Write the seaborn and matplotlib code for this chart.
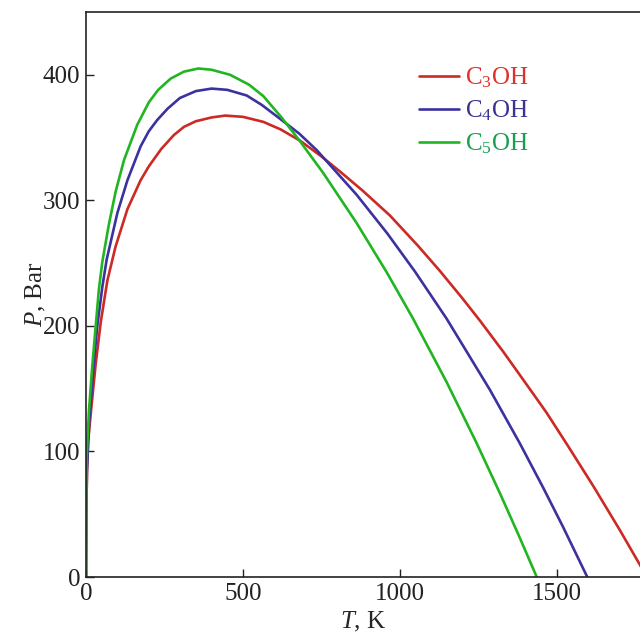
# P(T) curves for C3OH, C4OH, C5OH
import numpy as np
import pandas as pd
import matplotlib
matplotlib.use('Agg')
import matplotlib.pyplot as plt
import seaborn as sns

# values
t_c3 = [0, 1, 3, 6.4, 17, 31, 47, 68, 94, 132, 174, 200, 240, 280, 312, 350, 400, 443, 500, 565, 620, 682,
        750, 809, 880, 968, 1058, 1127, 1200, 1255, 1330, 1414, 1467, 1536, 1616, 1700, 1764, 1787]
p_c3 = [0, 50, 82, 107, 135, 170, 203, 236, 263, 293, 316, 327, 341, 352, 358.5, 363, 366, 367.5, 366.5, 362.5, 356.5, 347.5,
        335, 323, 308, 288, 263.7, 243.9, 221.7, 204.2, 179.2, 149.7, 131, 104.2, 72.5, 37.7, 10, 0]

t_c4 = [0, 1, 3, 10, 23, 36, 52, 66, 100, 132, 174, 200, 227, 260, 299, 350, 400, 450, 512, 560, 618,
        680, 735, 862, 960, 1048, 1149, 1287, 1382, 1456, 1520, 1597]
p_c4 = [0, 50, 85, 123, 165, 200, 231, 253, 290, 316, 343, 355, 364, 373, 381.5, 387, 389, 388, 383.5, 376, 365,
        353, 340, 304.5, 273.6, 243.3, 205.7, 149, 106.5, 71.4, 39.8, 0]

t_c5 = [0, 1, 2, 9.6, 20, 31, 41, 52, 73, 94.5, 121, 163, 200, 230, 270, 312, 358, 400, 459, 520, 565, 623,
        682, 756, 862, 958, 1042, 1149, 1244, 1318, 1380, 1436]
p_c5 = [0, 60, 95, 133, 168, 200, 229, 251, 281, 307, 332, 360, 378, 388, 397, 402.5, 405, 404, 400, 392, 383, 366,
        347, 321.7, 282, 242.7, 205.8, 155.2, 106.9, 67.1, 32.4, 0]

names = ['C$_3$OH', 'C$_4$OH', 'C$_5$OH']
line_colors = ['#cc2a24', '#3b32a0', '#22b522']
text_colors = ['#e0302a', '#3b3393', '#17a050']

df = pd.concat([
    pd.DataFrame({'T': t_c3, 'P': p_c3, 'name': names[0]}),
    pd.DataFrame({'T': t_c4, 'P': p_c4, 'name': names[1]}),
    pd.DataFrame({'T': t_c5, 'P': p_c5, 'name': names[2]}),
])

sns.set_style('ticks')
plt.rcParams['font.family'] = ['Liberation Serif', 'DejaVu Serif']
plt.rcParams['mathtext.fontset'] = 'custom'
plt.rcParams['mathtext.rm'] = 'Liberation Serif'
plt.rcParams['mathtext.it'] = 'Liberation Serif:italic'

fig = plt.figure(figsize=(6.4, 6.35), dpi=100)
ax = fig.add_axes([86 / 640, 58 / 635, 554 / 640, 565 / 635])

sns.lineplot(data=df, x='T', y='P', hue='name', palette=dict(zip(names, line_colors)),
             estimator=None, sort=False, linewidth=1.9, ax=ax)

ax.set_xlim(0, 1765)
ax.set_ylim(0, 450)
ax.set_xticks([0, 500, 1000, 1500])
ax.set_yticks([0, 100, 200, 300, 400])
ax.tick_params(direction='in', length=6, width=1, labelsize=18, colors='#222222', pad=4)
ax.spines['right'].set_visible(False)
for s in ['left', 'bottom', 'top']:
    ax.spines[s].set_linewidth(1.2)
    ax.spines[s].set_color('#222222')

ax.set_xlabel('$T$, K', fontsize=18, labelpad=4)
ax.set_ylabel('$P$, Bar', fontsize=18, labelpad=-4)

leg = ax.legend(loc='upper left', bbox_to_anchor=(0.56, 0.945), frameon=False,
                fontsize=18, handlelength=1.6, handletextpad=0.25, labelspacing=0.33)
for txt, c in zip(leg.get_texts(), text_colors):
    txt.set_color(c)

fig.savefig('out.png', dpi=100)
